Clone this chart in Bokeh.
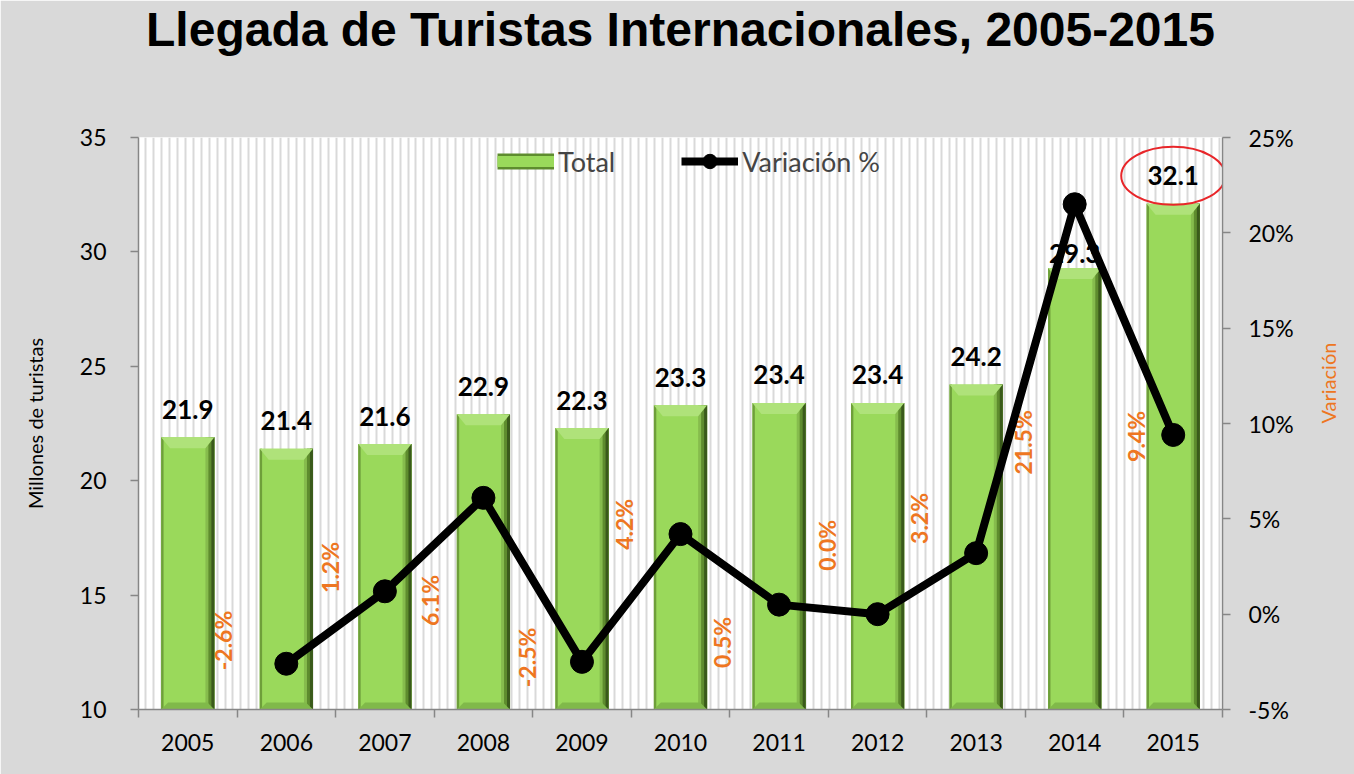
import math
from bokeh.plotting import figure
from bokeh.models import (Range1d, LinearAxis, FixedTicker, PrintfTickFormatter,
                          Legend, LegendItem, ColumnDataSource, Title)
from bokeh.embed import file_html
from bokeh.resources import INLINE
from bokeh.core.properties import value

# ---------------- data ----------------
years = ["2005", "2006", "2007", "2008", "2009", "2010",
         "2011", "2012", "2013", "2014", "2015"]
totals = [21.9, 21.4, 21.6, 22.9, 22.3, 23.3, 23.4, 23.4, 24.2, 29.3, 32.1]
var_years = years[1:]
variation = [-2.6, 1.2, 6.1, -2.5, 4.2, 0.5, 0.0, 3.2, 21.5, 9.4]
left_ticks = [10, 15, 20, 25, 30, 35]
right_ticks = [-5, 0, 5, 10, 15, 20, 25]
title_text = "Llegada de Turistas Internacionales, 2005-2015"

# ---------------- layout constants ----------------
W, H = 1354, 774
FL, FR, FT, FB = 138, 1228, 137, 709      # frame box (canvas px)
Y0, Y1 = 10, 35
P0, P1 = -5, 25
BAR_W = 0.54
px_x = (FR - FL) / len(years)
px_y = (FB - FT) / (Y1 - Y0)

def ux(px):
    return px / px_x

def uy(px):
    return px / px_y

value_label_dy_px = [28, 28, 28, 28, 28, 28, 28, 28, 28, 14, 28]
var_label_dx = [-0.64, -0.555, -0.545, -0.555, -0.575, -0.575, -0.515, -0.575, -0.525, -0.373]
var_label_y = [-1.38, 2.45, 0.72, -2.27, 4.71, -1.48, 3.61, 5.02, 9.01, 9.32]

FONT = "Lato"
GRAY = "#d9d9d9"
AXIS_GRAY = "#868686"
ORANGE = "#ee7621"
BAR_GREEN = "#9ad95b"

p = figure(width=W, height=H, output_backend="svg", toolbar_location=None,
           x_range=Range1d(0, len(years)), y_range=Range1d(Y0, Y1),
           min_border_left=FL, min_border_right=W - FR,
           min_border_top=FT, min_border_bottom=H - FB)
p.background_fill_color = "white"
p.border_fill_color = GRAY
p.outline_line_color = None
p.extra_y_ranges = {"pct": Range1d(P0, P1)}
p.title.text = ""
p.title.standoff = 0

# title pushed to the very top: a blank spacer title next to the frame,
# the real title stacked above it
spacer = Title(text=" ", text_font_size="1px", standoff=77)
main_title = Title(text=title_text, text_font="Liberation Sans",
                   text_font_style="bold", text_font_size="48px",
                   text_color="black", align="center", offset=3,
                   vertical_align="top", standoff=0)
p.add_layout(spacer, "above")
p.add_layout(main_title, "above")

# striped background via x grid
stripes = []
k = 0
while 7 + 8 * k < (FR - FL):
    stripes.append(ux(7 + 8 * k))
    k += 1
p.xgrid[0].ticker = FixedTicker(ticks=stripes)
p.xgrid.grid_line_color = GRAY
p.xgrid.grid_line_width = 2
p.ygrid.visible = False

xc = [i + 0.5 for i in range(len(years))]

# ---------------- bars ----------------
src = ColumnDataSource(dict(x=xc, top=totals))
p.vbar(x="x", top="top", bottom=Y0, width=BAR_W, source=src,
       fill_color=BAR_GREEN, line_color=None)
p.vbar(x=[c - BAR_W / 2 + ux(1.2) for c in xc], top=totals, bottom=Y0,
       width=ux(2.4), fill_color="#6e9f3a", line_color=None)
for w_px, col in [(9, "#86bc4d"), (6, "#5e8c2e"), (3, "#3a5a1b")]:
    p.vbar(x=[c + BAR_W / 2 - ux(w_px) / 2 for c in xc], top=totals, bottom=Y0,
           width=ux(w_px), fill_color=col, line_color=None)
xs_t, ys_t, xs_b, ys_b = [], [], [], []
for c, v in zip(xc, totals):
    l, r = c - BAR_W / 2, c + BAR_W / 2
    xs_t.append([l, r, r - ux(9), l + ux(9)])
    ys_t.append([v, v, v - uy(11), v - uy(11)])
    xs_b.append([l, r, r - ux(7), l + ux(7)])
    ys_b.append([Y0, Y0, Y0 + uy(7), Y0 + uy(7)])
p.patches(xs_t, ys_t, fill_color="#afe27a", line_color=None)
p.patches(xs_b, ys_b, fill_color="#80b94a", line_color=None)

# bar value labels
p.text(x=xc, y=[v + uy(d) for v, d in zip(totals, value_label_dy_px)],
       text=[f"{v:.1f}" for v in totals], text_font=value(FONT),
       text_font_style="bold", text_font_size="26px", text_align="center",
       text_baseline="middle", text_color="black")

# variation labels (orange, rotated)
p.text(x=[xc[i + 1] + dx for i, dx in enumerate(var_label_dx)], y=var_label_y,
       y_range_name="pct", text=[f"{v:.1f}%" for v in variation],
       angle=math.pi / 2, text_font=value(FONT), text_font_style="bold",
       text_font_size="23px", text_align="center", text_baseline="middle",
       text_color=ORANGE)

# ---------------- line ----------------
lx = xc[1:]
r_line = p.line(lx, variation, y_range_name="pct", line_color="black", line_width=8)
r_pts = p.scatter(lx, variation, y_range_name="pct", size=23, marker="circle",
                  fill_color="black", line_color="black")

# highlight ellipse around last value
p.ellipse(x=[xc[-1]], y=[totals[-1] + uy(28)], width=104, height=58,
          width_units="screen", height_units="screen",
          fill_color=None, line_color="#e8262a", line_width=2)

# ---------------- legend ----------------
# single-point line renderers draw nothing on the plot; they only supply the
# legend swatch for the bar series
r_leg_a = p.line(x=xc[:1], y=totals[:1], line_color="#5e8c2e", line_width=16)
r_leg_b = p.line(x=xc[:1], y=totals[:1], line_color=BAR_GREEN, line_width=11)
legend = Legend(items=[LegendItem(label="Total", renderers=[r_leg_a, r_leg_b]),
                       LegendItem(label="Variación %", renderers=[r_line, r_pts])],
                location=(359, 530), orientation="horizontal",
                background_fill_alpha=0, border_line_color=None,
                label_text_font=FONT, label_text_font_size="27px",
                glyph_width=57, glyph_height=36, label_standoff=4,
                spacing=66, padding=0, margin=0)
p.add_layout(legend)

# ---------------- axes ----------------
xa = p.xaxis[0]
xa.ticker = FixedTicker(ticks=xc, minor_ticks=list(range(len(years) + 1)))
xa.major_label_overrides = {c: y for c, y in zip(xc, years)}
xa.major_tick_out = 0
xa.major_tick_in = 0
xa.minor_tick_out = 8
xa.minor_tick_in = 0
xa.minor_tick_line_color = AXIS_GRAY
xa.minor_tick_line_width = 1.5
xa.major_label_standoff = 16

ya = p.yaxis[0]
ya.ticker = FixedTicker(ticks=left_ticks)
ya.major_tick_out = 8
ya.major_tick_in = 0
ya.minor_tick_line_color = None
ya.major_label_standoff = 24
ya.axis_label = "Millones de turistas"
ya.axis_label_text_color = "black"
ya.axis_label_standoff = 30

ra = LinearAxis(y_range_name="pct", ticker=FixedTicker(ticks=right_ticks),
                formatter=PrintfTickFormatter(format="%d%%"))
ra.major_tick_out = 8
ra.major_tick_in = 0
ra.minor_tick_line_color = None
ra.major_label_standoff = 18
ra.axis_label = "Variación"
ra.axis_label_text_color = ORANGE
ra.axis_label_standoff = 31
try:
    ra.axis_label_orientation = math.pi / 2
except Exception:
    pass
p.add_layout(ra, "right")

for ax in (xa, ya, ra):
    ax.axis_line_color = AXIS_GRAY
    ax.axis_line_width = 1.5
    ax.major_tick_line_color = AXIS_GRAY
    ax.major_tick_line_width = 1.5
    ax.major_label_text_font = FONT
    ax.major_label_text_font_size = "23px"
    ax.major_label_text_color = "black"
    ax.axis_label_text_font = FONT
    ax.axis_label_text_font_size = "20px"
    ax.axis_label_text_font_style = "normal"

open("out.html", "w").write(file_html(p, INLINE))
